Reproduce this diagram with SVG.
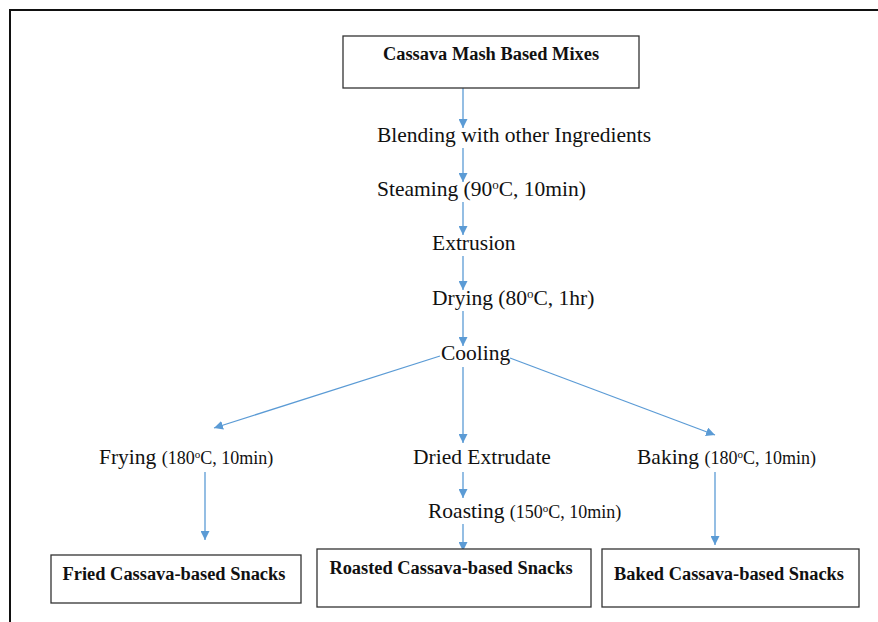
<svg xmlns="http://www.w3.org/2000/svg" width="878" height="622" viewBox="0 0 878 622">
<style>
.t{font-family:"Liberation Serif","Times New Roman",serif;font-size:21.5px;fill:#111}
.s{font-size:18px}
.b{font-family:"Liberation Serif","Times New Roman",serif;font-size:18.4px;font-weight:bold;fill:#111}
.box{fill:#fff;stroke:#333;stroke-width:1.3}
.c{stroke:#5B9BD5;stroke-width:1.3;fill:none}
</style>
<defs>
<marker id="ah" viewBox="0 0 10 10" refX="10" refY="5" markerWidth="9" markerHeight="9" markerUnits="userSpaceOnUse" orient="auto">
<path d="M0,0 L10,5 L0,10 z" fill="#5B9BD5"/>
</marker>
</defs>
<rect width="878" height="622" fill="#fff"/>
<path d="M10,622 V10 H878" fill="none" stroke="#111" stroke-width="2"/>
<g id="connectors">
<line class="c" x1="463" y1="88" x2="463" y2="128" marker-end="url(#ah)"/>
<line class="c" x1="463" y1="148" x2="463" y2="182" marker-end="url(#ah)"/>
<line class="c" x1="463" y1="202" x2="463" y2="235" marker-end="url(#ah)"/>
<line class="c" x1="463" y1="256" x2="463" y2="290" marker-end="url(#ah)"/>
<line class="c" x1="463" y1="311" x2="463" y2="346" marker-end="url(#ah)"/>
<line class="c" x1="440" y1="356" x2="214" y2="428" marker-end="url(#ah)"/>
<line class="c" x1="510" y1="358" x2="715" y2="435" marker-end="url(#ah)"/>
<line class="c" x1="463" y1="367" x2="463" y2="443" marker-end="url(#ah)"/>
<line class="c" x1="205" y1="472" x2="205" y2="540" marker-end="url(#ah)"/>
<line class="c" x1="463" y1="472" x2="463" y2="498" marker-end="url(#ah)"/>
<line class="c" x1="463" y1="524" x2="463" y2="551" marker-end="url(#ah)"/>
<line class="c" x1="715" y1="472" x2="715" y2="545" marker-end="url(#ah)"/>
</g>
<g id="mixes">
<rect class="box" x="343" y="36" width="296" height="52"/>
<text class="b" x="491" y="60" text-anchor="middle">Cassava Mash Based Mixes</text>
</g>
<g id="blending"><text class="t" x="377" y="142">Blending with other Ingredients</text></g>
<g id="steaming"><text class="t" x="377" y="196">Steaming (90<tspan font-size="13" dy="-7">o</tspan><tspan dy="7">C, 10min)</tspan></text></g>
<g id="extrusion"><text class="t" x="432" y="250">Extrusion</text></g>
<g id="drying"><text class="t" x="432" y="305">Drying (80<tspan font-size="13" dy="-7">o</tspan><tspan dy="7">C, 1hr)</tspan></text></g>
<g id="cooling"><text class="t" x="441" y="360">Cooling</text></g>
<g id="frying"><text class="t" x="99" y="464">Frying <tspan class="s">(180<tspan font-size="11" dy="-6">o</tspan><tspan dy="6">C, 10min)</tspan></tspan></text></g>
<g id="dried"><text class="t" x="413" y="464">Dried Extrudate</text></g>
<g id="baking"><text class="t" x="637" y="464">Baking <tspan class="s">(180<tspan font-size="11" dy="-6">o</tspan><tspan dy="6">C, 10min)</tspan></tspan></text></g>
<g id="roasting"><text class="t" x="428" y="518">Roasting <tspan class="s">(150<tspan font-size="11" dy="-6">o</tspan><tspan dy="6">C, 10min)</tspan></tspan></text></g>
<g id="fried">
<rect class="box" x="51" y="555" width="250" height="48"/>
<text class="b" x="174" y="580" text-anchor="middle">Fried Cassava-based Snacks</text>
</g>
<g id="roasted">
<rect class="box" x="317" y="549" width="274" height="58"/>
<text class="b" x="451" y="574" text-anchor="middle">Roasted Cassava-based Snacks</text>
</g>
<g id="baked">
<rect class="box" x="602" y="549" width="257" height="58"/>
<text class="b" x="729" y="580" text-anchor="middle">Baked Cassava-based Snacks</text>
</g>
</svg>
